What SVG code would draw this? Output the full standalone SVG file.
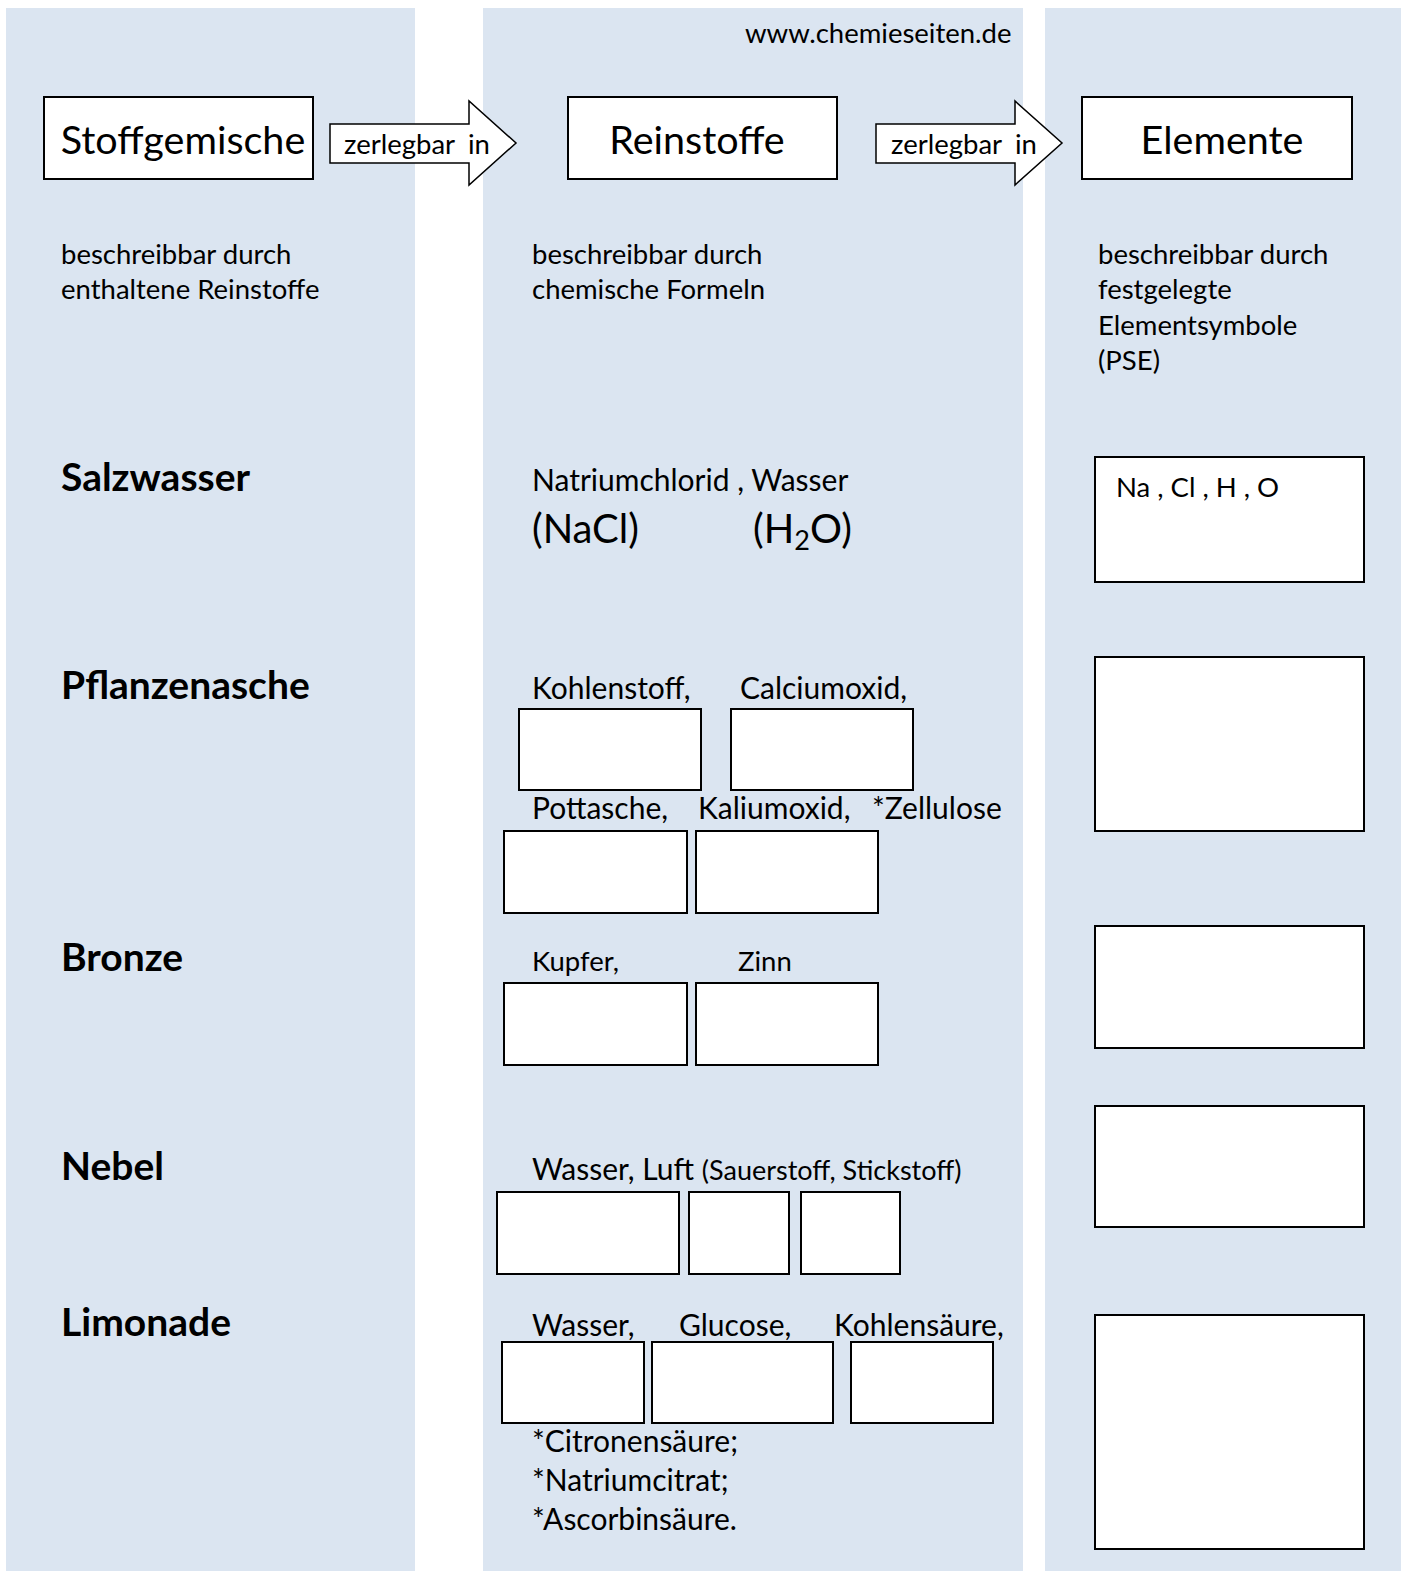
<svg xmlns="http://www.w3.org/2000/svg" width="1409" height="1571" viewBox="0 0 1409 1571">
<style>
.panel{fill:#dbe5f1}
.box{fill:#fff;stroke:#000;stroke-width:2}
.arrow{fill:#fff;stroke:#000;stroke-width:1.5}
text{font-family:Lato,"Liberation Sans",sans-serif;fill:#000}
.title{font-size:39.5px;text-anchor:middle}
.s29{font-size:27.5px}
.s32{font-size:30px}
.s42{font-size:40px}
.head{font-size:39px;font-weight:bold}
</style>
<rect width="1409" height="1571" fill="#fff"/>
<g id="panels">
<rect class="panel" x="6" y="8" width="409" height="1563"/>
<rect class="panel" x="483" y="8" width="540" height="1563"/>
<rect class="panel" x="1045" y="8" width="356" height="1563"/>
</g>
<text id="url" class="s29" x="745" y="43">www.chemieseiten.de</text>
<g id="node-stoffgemische">
<rect class="box" x="44" y="97" width="269" height="82"/>
<text class="title" x="183" y="154">Stoffgemische</text>
</g>
<g id="node-reinstoffe">
<rect class="box" x="568" y="97" width="269" height="82"/>
<text class="title" x="697" y="154">Reinstoffe</text>
</g>
<g id="node-elemente">
<rect class="box" x="1082" y="97" width="270" height="82"/>
<text class="title" x="1222" y="154">Elemente</text>
</g>
<g id="connectors">
<g id="arrow1">
<polygon class="arrow" points="330,124 469,124 469,101 516,143 469,185 469,163 330,163"/>
<text class="s29" x="344" y="154">zerlegbar<tspan x="468">in</tspan></text>
</g>
<g id="arrow2">
<polygon class="arrow" points="876,124 1015,124 1015,101 1062,143 1015,185 1015,163 876,163"/>
<text class="s29" x="891" y="154">zerlegbar<tspan x="1015">in</tspan></text>
</g>
</g>
<g id="descriptions">
<text class="s29" x="61" y="264">beschreibbar durch<tspan x="61" y="299">enthaltene Reinstoffe</tspan></text>
<text class="s29" x="532" y="264">beschreibbar durch<tspan x="532" y="299">chemische Formeln</tspan></text>
<text class="s29" x="1098" y="264">beschreibbar durch<tspan x="1098" y="299">festgelegte</tspan><tspan x="1098" y="335">Elementsymbole</tspan><tspan x="1098" y="370">(PSE)</tspan></text>
</g>
<g id="row-salzwasser">
<text class="head" x="61" y="491">Salzwasser</text>
<text class="s32" x="532" y="491">Natriumchlorid , Wasser</text>
<text class="s42" x="532" y="543">(NaCl)</text>
<text class="s42" x="753" y="543">(H<tspan font-size="27" dy="7">2</tspan><tspan dy="-7">O)</tspan></text>
<rect class="box" x="1095" y="457" width="269" height="125"/>
<text class="s29" x="1116" y="497">Na , Cl , H , O</text>
</g>
<g id="row-pflanzenasche">
<text class="head" x="61" y="699">Pflanzenasche</text>
<text class="s32" x="532" y="699">Kohlenstoff,</text>
<text class="s32" x="740" y="699">Calciumoxid,</text>
<rect class="box" x="519" y="709" width="182" height="81"/>
<rect class="box" x="731" y="709" width="182" height="81"/>
<text class="s32" x="532" y="819">Pottasche,</text>
<text class="s32" x="698" y="819">Kaliumoxid,</text>
<text class="s32" x="872" y="819">*Zellulose</text>
<rect class="box" x="504" y="831" width="183" height="82"/>
<rect class="box" x="696" y="831" width="182" height="82"/>
<rect class="box" x="1095" y="657" width="269" height="174"/>
</g>
<g id="row-bronze">
<text class="head" x="61" y="971">Bronze</text>
<text class="s29" x="532" y="971">Kupfer,</text>
<text class="s29" x="738" y="971">Zinn</text>
<rect class="box" x="504" y="983" width="183" height="82"/>
<rect class="box" x="696" y="983" width="182" height="82"/>
<rect class="box" x="1095" y="926" width="269" height="122"/>
</g>
<g id="row-nebel">
<text class="head" x="61" y="1180">Nebel</text>
<text class="s32" x="532" y="1180">Wasser, Luft <tspan font-size="27">(Sauerstoff, Stickstoff)</tspan></text>
<rect class="box" x="497" y="1192" width="182" height="82"/>
<rect class="box" x="689" y="1192" width="100" height="82"/>
<rect class="box" x="801" y="1192" width="99" height="82"/>
<rect class="box" x="1095" y="1106" width="269" height="121"/>
</g>
<g id="row-limonade">
<text class="head" x="61" y="1336">Limonade</text>
<text class="s32" x="532" y="1336">Wasser,</text>
<text class="s32" x="679" y="1336">Glucose,</text>
<text class="s32" x="834" y="1336">Kohlensäure,</text>
<rect class="box" x="502" y="1342" width="142" height="81"/>
<rect class="box" x="652" y="1342" width="181" height="81"/>
<rect class="box" x="851" y="1342" width="142" height="81"/>
<text class="s32" x="532" y="1452">*Citronensäure;</text>
<text class="s32" x="532" y="1491">*Natriumcitrat;</text>
<text class="s32" x="532" y="1530">*Ascorbinsäure.</text>
<rect class="box" x="1095" y="1315" width="269" height="234"/>
</g>
</svg>
